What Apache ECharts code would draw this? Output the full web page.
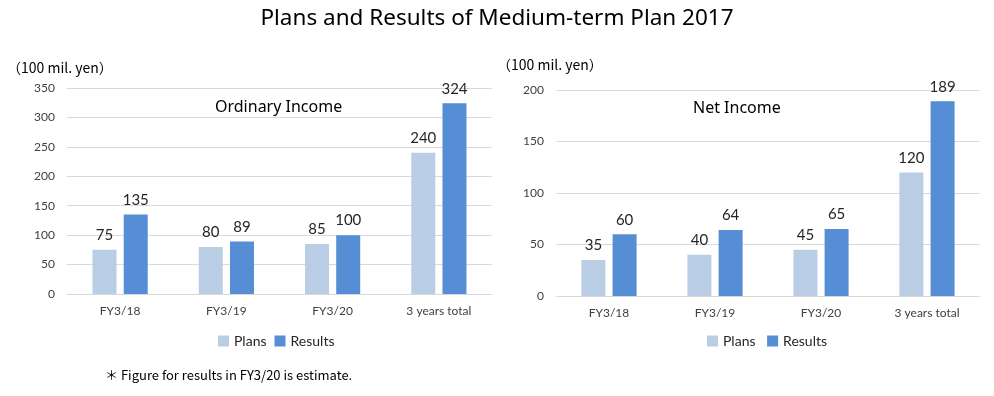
<!DOCTYPE html>
<html lang="en">
<head>
    <meta charset="UTF-8">
    <title>Plans and Results of Medium-term Plan 2017</title>
    <script src="https://cdn.jsdelivr.net/npm/echarts@6/dist/echarts.min.js"></script>
    <style>
        html, body { margin:0; padding:0; background:#fff; }
    </style>
</head>
<body>
    <div id="main" style="width:994px;height:396px;"></div>
<script>
    // data
    var categories = ['FY3/18', 'FY3/19', 'FY3/20', '3 years total'];
    var ordinaryPlans = [75, 80, 85, 240];
    var ordinaryResults = [135, 89, 100, 324];
    var netPlans = [35, 40, 45, 120];
    var netResults = [60, 64, 65, 189];

    var FONT = '"Noto Sans", sans-serif';
    var SMALL = 'Lato, "Noto Sans", sans-serif';
    var JP = '"Noto Sans CJK JP", "Noto Sans", sans-serif';
    var planColor = '#B9CDE5';
    var resultColor = '#558ED5';

    var chart = echarts.init(document.getElementById('main'));

    function barSeries(name, data, idx, color) {
        return {
            name: name,
            type: 'bar',
            xAxisIndex: idx,
            yAxisIndex: idx,
            data: data,
            barWidth: 24,
            barGap: '30%',
            itemStyle: { color: color },
            label: {
                show: true,
                position: 'top',
                distance: 7,
                color: '#262626',
                fontSize: 15,
                fontFamily: SMALL
            }
        };
    }

    function xAxis(idx) {
        return {
            type: 'category',
            gridIndex: idx,
            data: categories,
            axisTick: { show: false },
            axisLine: { lineStyle: { color: '#D9D9D9' } },
            axisLabel: { color: '#404040', fontSize: 12, fontFamily: SMALL, margin: 11 }
        };
    }

    function yAxis(idx, max) {
        return {
            type: 'value',
            gridIndex: idx,
            min: 0,
            max: max,
            interval: 50,
            axisLine: { show: false },
            axisTick: { show: false },
            splitLine: { lineStyle: { color: '#D9D9D9' } },
            axisLabel: { color: '#404040', fontSize: 12, fontFamily: SMALL, margin: 12 }
        };
    }

    var options = {
        animation: false,
        textStyle: { fontFamily: FONT },
        title: [
            { text: 'Plans and Results of Medium-term Plan 2017', left: 'center', top: 2,
              textStyle: { fontSize: 22.5, fontWeight: 'normal', color: '#000', fontFamily: FONT } },
            { text: '（100 mil. yen）', left: 2, top: 56,
              textStyle: { fontSize: 14, fontWeight: 'normal', color: '#000', fontFamily: JP } },
            { text: '（100 mil. yen）', left: 492, top: 53,
              textStyle: { fontSize: 14, fontWeight: 'normal', color: '#000', fontFamily: JP } },
            { text: 'Ordinary Income', left: 210, top: 94,
              textStyle: { fontSize: 16, fontWeight: 'normal', color: '#000', fontFamily: FONT } },
            { text: 'Net Income', left: 688, top: 95,
              textStyle: { fontSize: 16, fontWeight: 'normal', color: '#000', fontFamily: FONT } },
            { text: '＊ Figure for results in FY3/20 is estimate.', left: 100, top: 364,
              textStyle: { fontSize: 13, fontWeight: 'normal', color: '#000', fontFamily: JP } }
        ],
        legend: [
            { data: ['Plans', 'Results'], left: 213, top: 329, itemWidth: 11, itemHeight: 11,
              itemGap: 8, icon: 'rect',
              textStyle: { fontSize: 14, color: '#262626', fontFamily: SMALL } },
            { data: ['Plans ', 'Results '], left: 702, top: 329, itemWidth: 11, itemHeight: 11,
              itemGap: 8, icon: 'rect',
              textStyle: { fontSize: 14, color: '#262626', fontFamily: SMALL } }
        ],
        grid: [
            { left: 67, top: 88, width: 425, height: 206 },
            { left: 556, top: 90, width: 424, height: 206 }
        ],
        xAxis: [xAxis(0), xAxis(1)],
        yAxis: [yAxis(0, 350), yAxis(1, 200)],
        series: [
            barSeries('Plans', ordinaryPlans, 0, planColor),
            barSeries('Results', ordinaryResults, 0, resultColor),
            barSeries('Plans ', netPlans, 1, planColor),
            barSeries('Results ', netResults, 1, resultColor)
        ]
    };
    chart.setOption(options);
</script>
</body>
</html>
